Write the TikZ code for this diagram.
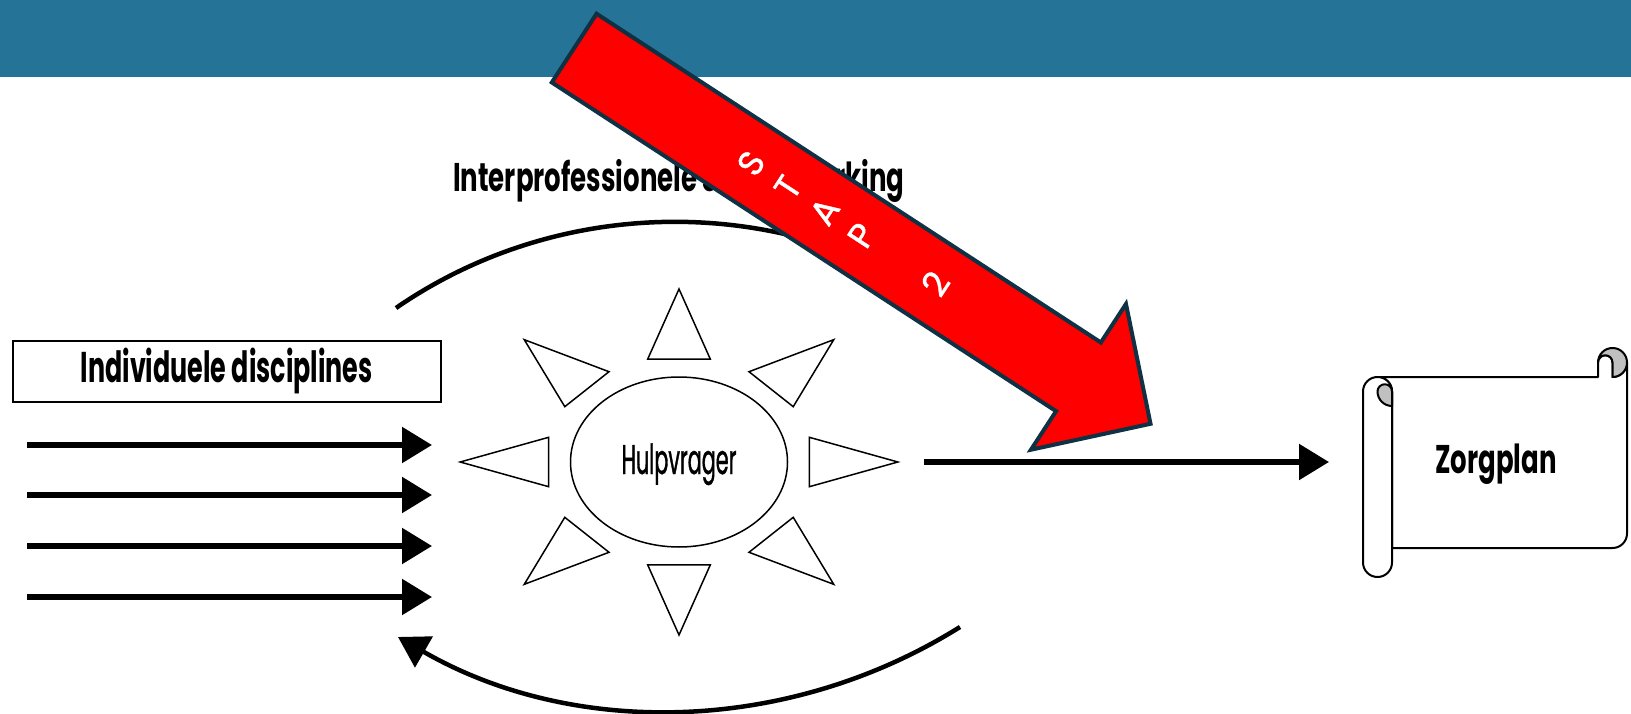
\documentclass[tikz,border=0pt]{standalone}
\usepackage{fontspec}
\usepackage{tikz}
\usetikzlibrary{arrows.meta,shapes.geometric}
\newfontfamily\condbold[FakeStretch=0.65]{Poppins}
\newfontfamily\condnarrow[FakeStretch=0.59]{Poppins}
\newfontfamily\condthin[FakeStretch=0.5,FakeBold=0.8]{Poppins}
\newfontfamily\stapfont[FakeBold=1.2]{Poppins}
\definecolor{bandblue}{RGB}{38,115,152}
\definecolor{arrowred}{RGB}{255,0,0}
\definecolor{arrowrim}{RGB}{14,49,68}
\definecolor{curlgray}{RGB}{192,192,192}

\begin{document}
\begin{tikzpicture}[x=1pt,y=-1pt,
        fatarrow/.style={line width=5.5pt,-{Triangle[length=30pt,width=35pt]}},
        cyclearc/.style={line width=4.5pt},
        ray/.style={line width=1.5pt,line join=miter},
        scrollline/.style={line width=2pt,line join=round},
        heading/.style={font=\condbold\bfseries\fontsize{40}{40}\selectfont,inner sep=0pt,anchor=base},
        stapletter/.style={text=white,font=\stapfont\fontsize{35}{35}\selectfont,inner sep=0pt,rotate=56.9}]
        \useasboundingbox (0,0) rectangle (1631,714);
        \fill[white] (0,0) rectangle (1631,714);
        \fill[bandblue] (0,0) rectangle (1631,77);

        \node[heading,anchor=base west] (title) at (453,192) {Interprofessionele samenwerking};

        % bovenste boog
        \coordinate (topstart) at (396,308);
        \coordinate (topend) at (954,308);
        \draw[cyclearc] (topstart) to[bend left=34.6,looseness=0.93] (topend);

        \node[heading,anchor=center,font=\condnarrow\bfseries\fontsize{43}{43}\selectfont,
            draw,line width=2pt,minimum width=428pt,minimum height=61pt,
            text height=30pt,text depth=8pt] (disc) at (226.7,371.7) {Individuele disciplines};

        % zon
        \node[ellipse,draw,line width=1.5pt,minimum width=217pt,minimum height=170pt,inner sep=0pt,
            font=\condthin\fontsize{41.5}{41.5}\selectfont,text height=24pt,text depth=0pt] (hulp) at (679,462) {Hulpvrager};
        \begin{scope}[shift={(hulp.center)},xscale=1.265]
            \foreach \a [evaluate=\a as \al using \a+13.5, evaluate=\a as \ar using \a-13.5] in {0,45,...,315}
                \draw[ray] (\a:173) -- (\al:105.9) -- (\ar:105.9) -- cycle;
        \end{scope}

        \foreach \i/\y in {1/445,2/495,3/546,4/597} {
            \coordinate (from\i) at (27,\y);
            \coordinate (to\i) at (432,\y);
            \draw[fatarrow] (from\i) -- (to\i);
        }

        % zorgplan rol
        \draw[scrollline,fill=white] (1627,362.5) -- (1627,533.5) arc[start angle=0,end angle=90,radius=14.5]
            -- (1392,548) -- (1392,391.5) arc[start angle=360,end angle=270,radius=14.5]
            -- (1598,377) -- (1598,362.5) arc[start angle=180,end angle=360,radius=7.25]
            -- (1612.5,377) arc[start angle=90,end angle=0,radius=14.5] -- cycle;
        \draw[scrollline,fill=curlgray] (1598,362.5) arc[start angle=180,end angle=450,radius=14.5]
            -- (1612.5,362.5) arc[start angle=0,end angle=-180,radius=7.25] -- cycle;
        \draw[scrollline,fill=white,rounded corners=14.5pt] (1363,377) rectangle (1392,577);
        \draw[scrollline,fill=curlgray] (1392,406) -- (1392,391.5) arc[start angle=0,end angle=-180,radius=7.25]
            arc[start angle=180,end angle=90,radius=14.5] -- cycle;
        \node[heading] (plan) at (1496,473) {Zorgplan};

        \coordinate (hulpout) at (924,462);
        \coordinate (planin) at (1329,462);
        \draw[fatarrow] (hulpout) -- (planin);

        % onderste boog
        \coordinate (botstart) at (960,627);
        \coordinate (botend) at (398,637);
        \draw[cyclearc,-{Triangle[length=30pt,width=35pt]}] (botstart) to[bend left=31,looseness=0.92] (botend);

        % stap 2
        \begin{scope}[shift={(572.5,47)},rotate=-33.1]
            \draw[fill=arrowred,draw=arrowrim,line width=4pt,line join=miter]
                (2,-41) -- (604,-41) -- (604,-87) -- (690,0) -- (604,87) -- (604,41) -- (2,41) -- cycle;
            \foreach \d/\c [count=\k] in {213/S,257/T,301/A,345/P,433/2}
                \node[stapletter] (stap\k) at (\d,0) {\c};
        \end{scope}
    \end{tikzpicture}
\end{document}
